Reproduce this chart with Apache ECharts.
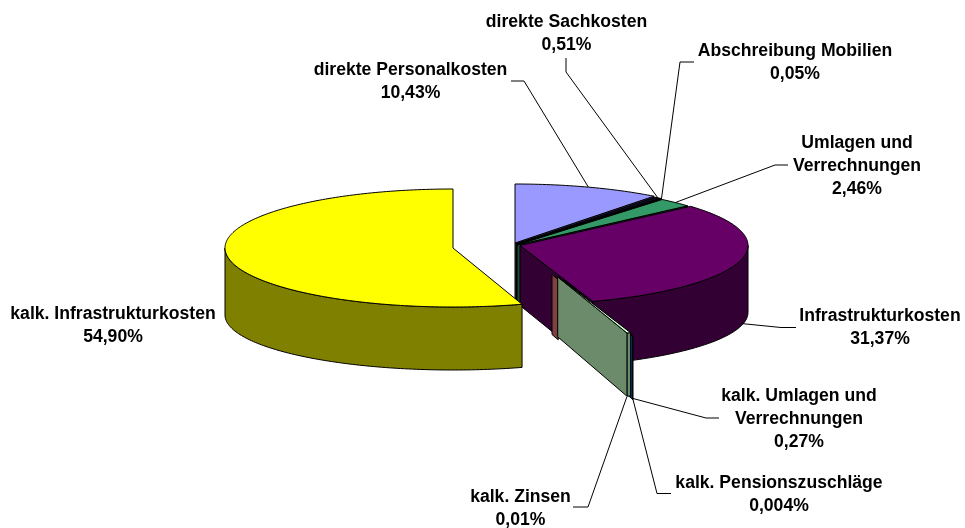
<!DOCTYPE html>
<html>
<head>
<meta charset="utf-8">
<script src="https://cdn.jsdelivr.net/npm/echarts@6/dist/echarts.min.js"></script>
<style>html,body{margin:0;padding:0;background:#fff}#c{width:965px;height:528px}</style>
</head>
<body>
<div id="c"></div>
<script>
// ---- data ----
const categories = ['direkte Personalkosten','direkte Sachkosten','Abschreibung Mobilien','Umlagen und\nVerrechnungen','Infrastrukturkosten','kalk. Umlagen und\nVerrechnungen','kalk. Pensionszuschläge','kalk. Zinsen','kalk. Infrastrukturkosten'];
const shares = [10.43,0.51,0.05,2.46,31.37,0.27,0.004,0.01,54.90];
const shareLabels = ['10,43%','0,51%','0,05%','2,46%','31,37%','0,27%','0,004%','0,01%','54,90%'];

// ---- styling ----
const topColors  = ['#9999FF','#0A0A20','#000000','#339966','#660066','#CCFFCC','#0066CC','#FF8080','#FFFF00'];
const sideColors = ['#4D4D80','#000010','#000000','#1A4D33','#330033','#6B8B6B','#003366','#804040','#808000'];
const paintOrder = [0,1,2,3,4,6,7,5,8];

// ---- layout of the exploded 3-D pie ----
const RX = 228, RY_TOP = 59, RY_BOTTOM = 55, DEPTH_APEX = 60, DEPTH_RIM = 67;
const explosion = [[515,243],[516,244],[516.5,244.5],[517,245],[520,245.5],[557.7,276.8],[563.5,280],[552,274.5],[453,248]];
const radialScale = [1,1,1,1,1,1,1,0.09,1];
const labelLayout = [
  {x:410.5,y:70, line:[[511,81],[524,81]], anchor:0, level:'top', dx:0, dy:0},
  {x:566.5,y:22, line:[[566,58],[566,72]], anchor:1, level:'top', dx:0, dy:0},
  {x:795,  y:51, line:[[694,62],[680,62]], anchor:2, level:'top', dx:0, dy:0},
  {x:857,  y:143,line:[[788,165],[775,165]], anchor:3, level:'top', dx:0, dy:0},
  {x:880,  y:316,line:[[796,327.5],[781,327.5]], anchor:4, level:'bottom', dx:2, dy:-3},
  {x:799,  y:396,line:[[719,418],[706,418]], anchor:6, level:'bottom', dx:0, dy:-1},
  {x:779,  y:483,line:[[671,493.5],[657,493.5]], anchor:6, level:'bottom', dx:0, dy:-1},
  {x:520.5,y:497,line:[[573,507],[588,507]], anchor:5, level:'bottom', dx:-2, dy:1},
  {x:113,  y:314,line:null}
];
const FONT = {fontFamily:'"Liberation Sans",Arial,sans-serif',fontSize:17.6,fontWeight:'bold',lineHeight:23,fill:'#000'};

const total = shares.reduce((a,b)=>a+b,0);
const startAngle = [], endAngle = [];
shares.reduce((acc,v,i)=>{startAngle[i]=acc/total*360;endAngle[i]=(acc+v)/total*360;return acc+v;},0);

function topPt(i,deg,r){
  const t=deg*Math.PI/180,a=explosion[i];
  return [a[0]+r*RX*Math.sin(t),a[1]-r*RY_TOP*Math.cos(t)];
}
function botPt(i,deg,r){
  const t=deg*Math.PI/180,a=explosion[i];
  return [a[0]+r*RX*Math.sin(t),a[1]+DEPTH_APEX+r*(DEPTH_RIM-DEPTH_APEX)-r*RY_BOTTOM*Math.cos(t)];
}
function arc(fn,i,from,to,r){
  const n=Math.max(2,Math.ceil(Math.abs(to-from)));
  const out=[];
  for(let k=0;k<=n;k++) out.push(fn(i,from+(to-from)*k/n,r));
  return out;
}
const EDGE = {stroke:'#000',lineWidth:1,lineJoin:'round'};
function poly(points,fill,z){
  return {type:'polygon',shape:{points},style:Object.assign({fill},EDGE),z2:z};
}
function renderSlice(params,api){
  const i=params.dataIndex, s=startAngle[i], e=endAngle[i], r=radialScale[i];
  const z=paintOrder.indexOf(i)*10;
  const kids=[];
  // outer wall: only the part of the rim that faces the viewer
  const rs=Math.max(s,90), re=Math.min(e,270);
  if(re>rs && r===1){
    kids.push(poly(arc(topPt,i,rs,re,1).concat(arc(botPt,i,re,rs,1)),sideColors[i],z+1));
  }
  // radial wall at the clockwise end of the slice
  if(e<180){
    kids.push(poly([explosion[i],topPt(i,e,r),botPt(i,e,r),botPt(i,0,0)],sideColors[i],z+2));
  }
  // top face
  if(r===1){
    kids.push(poly([explosion[i]].concat(arc(topPt,i,s,e,1)),topColors[i],z+3));
  }
  return {type:'group',children:kids};
}
function renderLabel(params,api){
  const i=params.dataIndex, L=labelLayout[i];
  const kids=[{type:'text',style:Object.assign({text:categories[i]+'\n'+shareLabels[i],x:L.x,y:L.y-FONT.lineHeight/2,align:'center',verticalAlign:'top'},FONT),z2:500}];
  if(L.line){
    const k=L.anchor,m=(startAngle[k]+endAngle[k])/2;
    const p=(L.level==='top'?topPt:botPt)(k,m,1);
    kids.push({type:'polyline',shape:{points:L.line.concat([[p[0]+L.dx,p[1]+L.dy]])},style:{fill:null,stroke:'#000',lineWidth:1},z2:400});
  }
  return {type:'group',children:kids};
}
const chart = echarts.init(document.getElementById('c'),null,{renderer:'canvas'});
chart.setOption({
  backgroundColor:'#fff',
  animation:false,
  series:[
    {type:'custom',coordinateSystem:'none',silent:true,renderItem:renderSlice,data:shares.map((v,i)=>({name:categories[i],value:[v]})),z:1},
    {type:'custom',coordinateSystem:'none',silent:true,renderItem:renderLabel,data:shares.map((v,i)=>({name:categories[i],value:[v]})),z:2}
  ]
});
</script>
</body>
</html>
